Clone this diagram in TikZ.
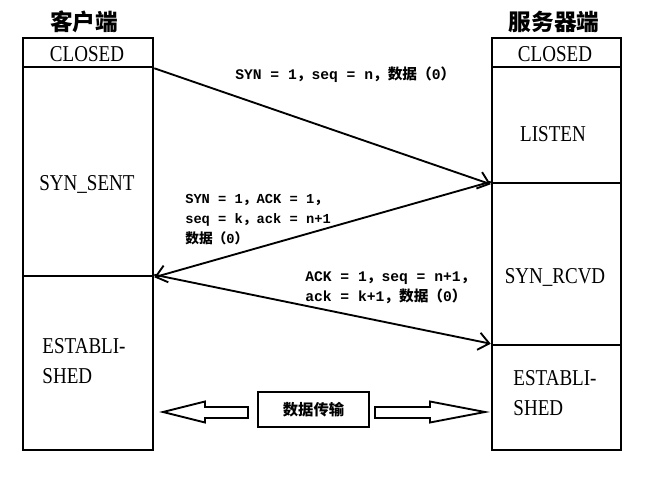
\documentclass[tikz,border=0pt]{standalone}
\usepackage{fontspec}
\setmainfont{Liberation Serif}
\newfontfamily\statefont[FakeStretch=0.84]{Liberation Serif}
\newfontfamily\cjk{Noto Sans CJK SC}
\newfontfamily\lblmono{Liberation Mono}
\usetikzlibrary{arrows.meta}
\newcommand\zh[1]{{\cjk\bfseries #1}}
\begin{document}
\begin{tikzpicture}[x=0.75pt,y=-0.75pt,
  seg/.style={draw, line width=1.9pt, inner sep=0pt},
  state/.style={font=\statefont\fontsize{17}{22}\selectfont, inner sep=0pt, align=left},
  lbl/.style={font=\lblmono\bfseries\fontsize{11}{15}\selectfont, anchor=west, align=left, inner sep=0pt},
  msg/.style={line width=1.4pt, -{Straight Barb[length=8pt,width=13pt,line width=1.4pt]}},
  ttl/.style={font=\cjk\bfseries\fontsize{17}{20}\selectfont, inner sep=0pt},
  hollow/.style={draw, line width=1.4pt, fill=white, line join=miter}
]
\useasboundingbox (0,0) rectangle (660,478);
\fill[white] (0,0) rectangle (660,478);

% titles
\node[ttl] (tc) at (84,22) {客户端};
\node[ttl] (ts) at (554,22) {服务器端};

% client column
\node[seg, minimum width=130*0.75pt, minimum height=29*0.75pt] (lclosed) at (88,52.5) {};
\node[seg, minimum width=130*0.75pt, minimum height=209*0.75pt] (lsent) at (88,171.5) {};
\node[seg, minimum width=130*0.75pt, minimum height=174*0.75pt] (lest) at (88,363) {};
% server column
\node[seg, minimum width=129*0.75pt, minimum height=29*0.75pt] (rclosed) at (556.5,52.5) {};
\node[seg, minimum width=129*0.75pt, minimum height=116*0.75pt] (rlisten) at (556.5,125) {};
\node[seg, minimum width=129*0.75pt, minimum height=162*0.75pt] (rrcvd) at (556.5,264) {};
\node[seg, minimum width=129*0.75pt, minimum height=105*0.75pt] (rest) at (556.5,397.5) {};

% state names
\node[state] (s1) at (87,54) {CLOSED};
\node[state] (s2) at (87,184) {SYN\_SENT};
\node[state] (s3) at (84,361) {ESTABLI-\\SHED};
\node[state] (s4) at (555,54) {CLOSED};
\node[state] (s5) at (553,134) {LISTEN};
\node[state] (s6) at (555,277) {SYN\_RCVD};
\node[state] (s7) at (555,393) {ESTABLI-\\SHED};

% messages
\draw[msg] (lclosed.south east) -- (rlisten.south west);
\draw[msg] (rrcvd.north west) -- (lsent.south east);
\draw[msg] (lest.north east) -- (rest.north west);

\node[lbl] (m1) at (235,75) {SYN = 1\zh{，}seq = n\zh{，数据（}0\zh{）}};
\node[lbl, font=\lblmono\bfseries\fontsize{10.3}{15}\selectfont] (m2) at (185,220) {SYN = 1\zh{，}ACK = 1\zh{，}\\seq = k\zh{，}ack = n+1\\\zh{数据（}0\zh{）}};
\node[lbl] (m3) at (305,288) {ACK = 1\zh{，}seq = n+1\zh{，}\\ack = k+1\zh{，数据（}0\zh{）}};

% data transfer
\node[draw, line width=1.5pt, minimum width=111*0.75pt, minimum height=35*0.75pt, inner sep=0pt,
      font=\cjk\bfseries\fontsize{11.5}{14}\selectfont] (data) at (313.5,409.5) {数据传输};
\draw[hollow] (248,407) -- (205,407) -- (205,401.5) -- (163,412) -- (205,422.5) -- (205,418) -- (248,418) -- cycle;
\draw[hollow] (375,407) -- (430,407) -- (430,401.5) -- (485,412) -- (430,422.5) -- (430,418) -- (375,418) -- cycle;
\end{tikzpicture}
\end{document}
